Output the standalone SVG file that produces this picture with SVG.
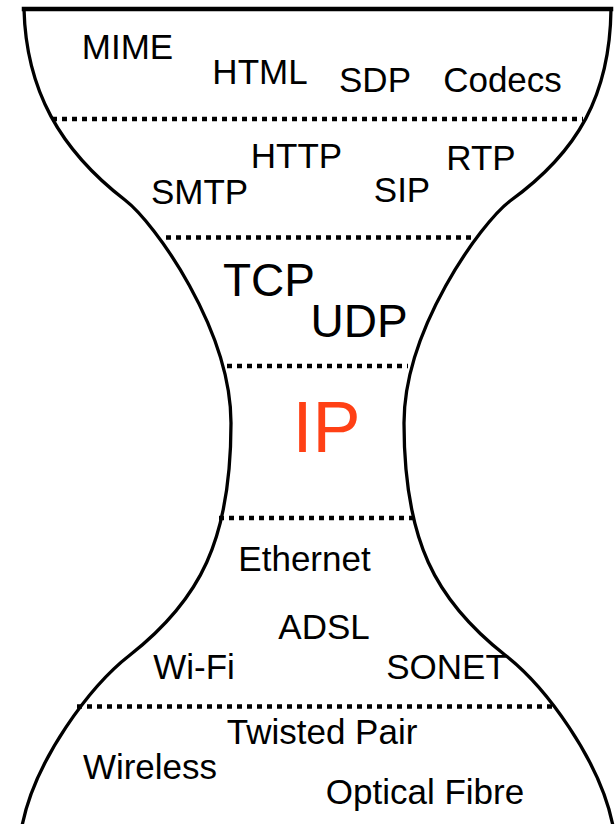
<svg xmlns="http://www.w3.org/2000/svg" width="615" height="824" viewBox="0 0 615 824">
<style>
.outline{fill:none;stroke:#000;stroke-width:3.3;stroke-linecap:round;stroke-linejoin:round}
.top{fill:none;stroke:#000;stroke-width:4.5;stroke-linecap:square}
.div{stroke:#000;stroke-width:4.5;stroke-dasharray:5 5}
text{font-family:"Liberation Sans",Arial,Helvetica,sans-serif;fill:#000;text-anchor:middle}
.s{font-size:35px}
.m{font-size:46px}
.ip{font-size:72px;fill:#FF4015}
</style>
<rect width="615" height="824" fill="#fff"/>
<g id="outline">
  <path class="top" d="M24 9H611"/>
  <path class="outline" d="M24 9 C26 90 60 150 125 200 C155 223 231 330 231 423 C231 540 200 600 130 655 C90 686 35 760 22 826"/>
  <path class="outline" d="M611 9 C610 95 578 152 510 201 C480 224 404 330 404 423 C404 540 435 600 505 655 C545 686 600 760 613 826"/>
</g>
<g id="connectors">
  <line class="div" x1="52" y1="119" x2="583" y2="119"/>
  <line class="div" x1="166" y1="237.5" x2="471" y2="237.5"/>
  <line class="div" x1="227" y1="366" x2="408" y2="366"/>
  <line class="div" x1="219" y1="518" x2="419" y2="518"/>
  <line class="div" x1="77" y1="706.5" x2="557" y2="706.5"/>
</g>
<g id="application-content">
  <text class="s" x="127.5" y="58.5">MIME</text>
  <text class="s" x="260" y="83.5">HTML</text>
  <text class="s" x="375" y="92">SDP</text>
  <text class="s" x="502.5" y="92">Codecs</text>
</g>
<g id="application-protocols">
  <text class="s" x="296.5" y="168">HTTP</text>
  <text class="s" x="481" y="170">RTP</text>
  <text class="s" x="199.5" y="204">SMTP</text>
  <text class="s" x="402" y="202">SIP</text>
</g>
<g id="transport">
  <text class="m" x="269" y="296">TCP</text>
  <text class="m" x="359" y="337">UDP</text>
</g>
<g id="network">
  <text class="ip" x="326.5" y="451.5">IP</text>
</g>
<g id="link">
  <text class="s" x="304.5" y="570.5">Ethernet</text>
  <text class="s" x="324" y="638.5">ADSL</text>
  <text class="s" x="194" y="678.5">Wi-Fi</text>
  <text class="s" x="446.5" y="678.5">SONET</text>
</g>
<g id="physical">
  <text class="s" x="322" y="744">Twisted Pair</text>
  <text class="s" x="150" y="779">Wireless</text>
  <text class="s" x="425" y="804">Optical Fibre</text>
</g>
</svg>
